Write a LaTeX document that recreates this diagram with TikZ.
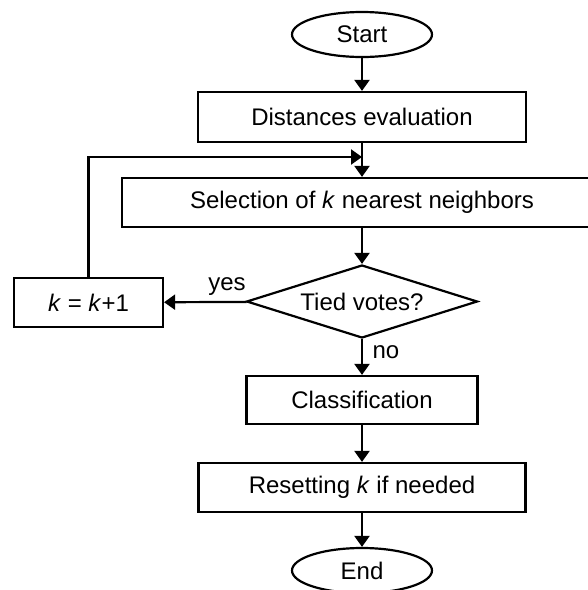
\documentclass[tikz,border=0pt]{standalone}
\usepackage{fontspec}
\setmainfont{Liberation Sans}
\usetikzlibrary{shapes.geometric,arrows.meta}

\begin{document}
\begin{tikzpicture}[x=0.5pt, y=-0.5pt, line width=1.1pt,
  font=\fontsize{12}{14}\selectfont,
  every node/.style={align=center, inner sep=0pt},
  proc/.style={draw, rectangle, minimum height=24.5pt},
  term/.style={draw, ellipse, minimum width=70pt, minimum height=22.5pt},
  decide/.style={draw, diamond, aspect=3.16, minimum width=115.5pt, minimum height=36.5pt},
  flow/.style={-{Triangle[length=5.5pt, width=7.5pt]}}]
  \useasboundingbox (0,0) rectangle (588,590);
  \clip (0,0) rectangle (588,590);
  \node[term] (start) at (362,34.5) {Start};
  \node[proc, minimum width=164pt, minimum height=25pt] (dist) at (362,117) {Distances evaluation};
  \node[proc, minimum width=240pt] (sel) at (362,202.5) {Selection of \textit{k} nearest neighbors};
  \node[decide] (tied) at (362,301.5) {Tied votes?};
  \node[proc, minimum width=74.5pt] (inc) at (88.5,302.5) {\textit{k} = \textit{k}+1};
  \node[proc, minimum width=115.5pt, minimum height=24pt] (cls) at (362,400) {Classification};
  \node[proc, minimum width=163.5pt] (reset) at (362,487.5) {Resetting \textit{k} if needed};
  \node[term] (end) at (362,570.5) {End};
  \node (yes) at (227,287) {yes};
  \node (no) at (386,352) {no};
  \coordinate (merge) at (362,157);
  \draw[flow] (start) -- (dist);
  \draw[flow] (dist) -- (sel);
  \draw[flow] (inc.north) |- (merge);
  \draw[flow] (sel) -- (tied);
  \draw[flow] (tied) -- (inc);
  \draw[flow] (tied) -- (cls);
  \draw[flow] (cls) -- (reset);
  \draw[flow] (reset) -- (end);
\end{tikzpicture}
\end{document}
